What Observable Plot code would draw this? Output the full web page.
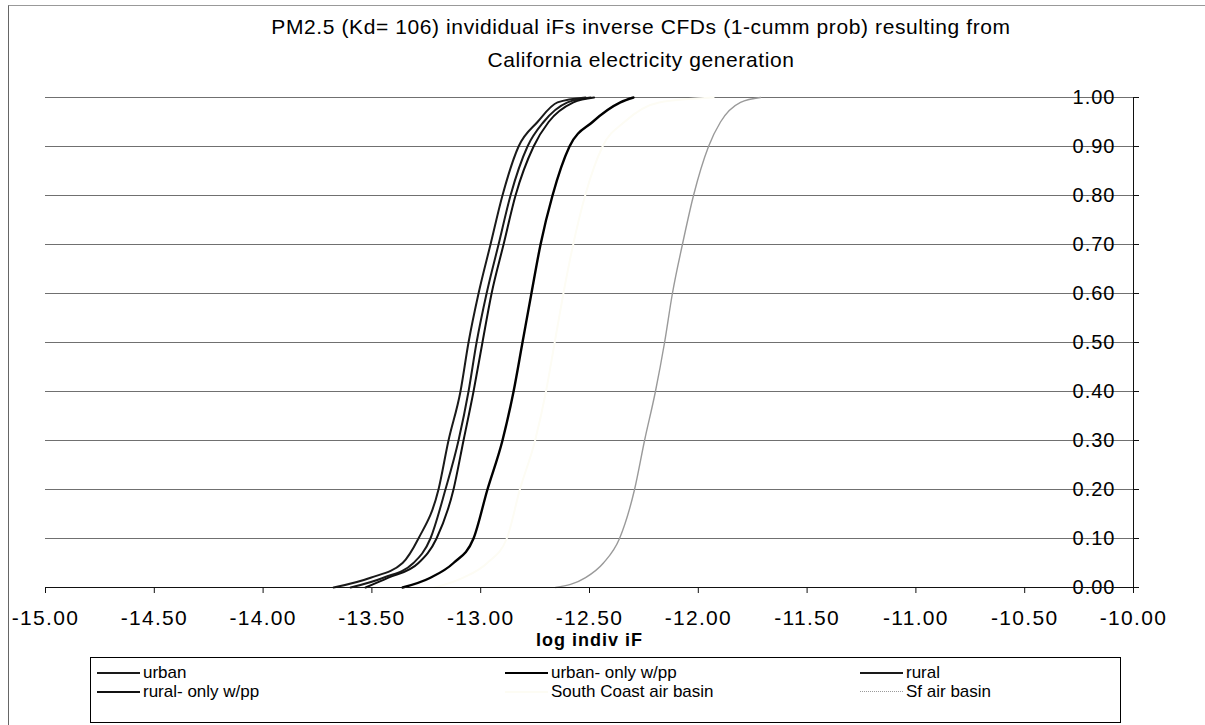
<!DOCTYPE html>
<html>
<head>
<meta charset="utf-8">
<script src="https://cdn.jsdelivr.net/npm/d3@7"></script>
<script src="https://cdn.jsdelivr.net/npm/@observablehq/plot@0.6"></script>
<style>
  html, body { margin: 0; padding: 0; background: #fff; }
  body { font-family: "Liberation Sans", Arial, sans-serif; color: #000; }
  #wrap { position: relative; width: 1205px; height: 725px; overflow: hidden; background: #fff; }
  #frame { position: absolute; left: 8px; top: 5px; width: 1300px; height: 800px; pointer-events: none;
           border-left: 1px solid #666; border-top: 1px solid #999; box-sizing: border-box; }
  #title { position: absolute; left: 141px; width: 1000px; top: 10px; text-align: center;
           font-size: 21px; line-height: 33px; letter-spacing: 0.6px; }
  #chart { position: absolute; left: 0; top: 80px; }
  #legend { position: absolute; left: 90px; top: 657px; width: 1031px; height: 66px;
            border: 1px solid #000; box-sizing: border-box; background: #fff; }
  .item { position: absolute; height: 19px; font-size: 17px; line-height: 19px; white-space: nowrap; }
  .swatch { position: absolute; left: 0; top: 9px; width: 43px; }
  .lbl { position: absolute; left: 46px; top: 0; }
</style>
</head>
<body>
<div id="wrap">
  <div id="title">PM2.5 (Kd= 106) invididual iFs inverse CFDs (1-cumm prob) resulting from<br>California electricity generation</div>
  <div id="chart"></div>
  <div id="legend"></div>
  <div id="frame"></div>
</div>
<script>
// probability levels (y values) at which each curve was read
const probs = [0, 0.02, 0.05, 0.1, 0.2, 0.3, 0.4, 0.5, 0.6, 0.7, 0.8, 0.9, 0.95, 0.99, 1.0];

// log indiv iF (x values) for each series at the probability levels above
const urban         = [-13.676, -13.506, -13.359, -13.286, -13.194, -13.148, -13.093, -13.056, -13.010, -12.955, -12.900, -12.826, -12.739, -12.647, -12.518];
const rural         = [-13.598, -13.447, -13.309, -13.231, -13.162, -13.102, -13.056, -13.019, -12.973, -12.918, -12.863, -12.785, -12.711, -12.601, -12.495];
const ruralOnlyWpp  = [-13.529, -13.424, -13.286, -13.203, -13.125, -13.079, -13.033, -12.992, -12.950, -12.895, -12.840, -12.757, -12.688, -12.574, -12.479];
const urbanOnlyWpp  = [-13.359, -13.231, -13.125, -13.033, -12.969, -12.900, -12.849, -12.808, -12.767, -12.725, -12.670, -12.592, -12.486, -12.358, -12.298];
const southCoast    = [-13.210, -13.080, -12.970, -12.880, -12.820, -12.750, -12.700, -12.660, -12.620, -12.575, -12.520, -12.440, -12.340, -12.180, -11.930];
const sfAirBasin    = [-12.656, -12.518, -12.436, -12.362, -12.293, -12.247, -12.197, -12.155, -12.119, -12.073, -12.022, -11.953, -11.898, -11.806, -11.714];

const seriesNames  = ["urban", "urban- only w/pp", "rural", "rural- only w/pp", "South Coast air basin", "Sf air basin"];
const seriesValues = [urban, urbanOnlyWpp, rural, ruralOnlyWpp, southCoast, sfAirBasin];
const seriesColors = ["#1a1a1a", "#000000", "#1a1a1a", "#111111", "#fdfcf4", "#9a9a9a"];
const seriesWidths = [2, 2.4, 2, 2, 2, 1.4];

const xTicks = [-15, -14.5, -14, -13.5, -13, -12.5, -12, -11.5, -11, -10.5, -10];
const yTicks = [0, 0.1, 0.2, 0.3, 0.4, 0.5, 0.6, 0.7, 0.8, 0.9, 1.0];
const xLabel = "log indiv iF";

const rows = [];
seriesNames.forEach((name, i) => {
  seriesValues[i].forEach((v, j) => rows.push({series: name, x: v, p: probs[j]}));
});

const lineMarks = seriesNames.map((name, i) =>
  Plot.line(rows.filter(r => r.series === name), {
    x: "x", y: "p", stroke: seriesColors[i], strokeWidth: seriesWidths[i], curve: "monotone-x"
  })
);

const plot = Plot.plot({
  width: 1205,
  height: 570,
  marginLeft: 45,
  marginRight: 72,
  marginTop: 17,
  marginBottom: 63,
  style: {fontFamily: "'Liberation Sans', Arial, sans-serif", color: "#000", background: "transparent", overflow: "visible"},
  x: {domain: [-15, -10], label: null},
  y: {domain: [0, 1], label: null},
  marks: [
    Plot.ruleY(yTicks.filter(d => d > 0), {stroke: "#707070", strokeWidth: 1}),
    Plot.text(yTicks, {x: -10, y: d => d, text: d => d.toFixed(2), textAnchor: "end", dx: -18, fontSize: 20, fill: "#000", stroke: "none"}),
    ...lineMarks,
    Plot.ruleY([0], {stroke: "#111", strokeWidth: 1}),
    Plot.ruleX([-10], {stroke: "#111", strokeWidth: 1}),
    Plot.axisY(yTicks, {anchor: "right", tickSize: 5, tickFormat: () => "", label: null, stroke: "#111"}),
    Plot.axisX(xTicks, {anchor: "bottom", tickSize: 6, tickPadding: 17, fontSize: 21, tickFormat: d => d.toFixed(2), label: null, stroke: "#111", fill: "#000"}),
    Plot.text([xLabel], {frameAnchor: "bottom", dy: 58, fontWeight: "bold", fontSize: 18, fill: "#000"})
  ]
});
document.getElementById("chart").appendChild(plot);
plot.querySelectorAll('g[aria-label="x-axis tick label"] text').forEach(t => t.style.letterSpacing = "1.3px");
plot.querySelectorAll('g[aria-label="text"] text').forEach(t => t.style.letterSpacing = "1px");

// legend
const legend = document.getElementById("legend");
const colX = [6, 414, 769];
seriesNames.forEach((name, i) => {
  const col = i % 3, row = Math.floor(i / 3);
  const item = document.createElement("div");
  item.className = "item";
  item.style.left = colX[col] + "px";
  item.style.top = (5 + row * 19) + "px";
  const sw = document.createElement("div");
  sw.className = "swatch";
  sw.style.borderTop = Math.max(1, Math.round(seriesWidths[i])) + "px " + (i === 5 ? "dotted " : "solid ") + seriesColors[i];
  const lb = document.createElement("span");
  lb.className = "lbl";
  lb.textContent = name;
  item.appendChild(sw);
  item.appendChild(lb);
  legend.appendChild(item);
});
</script>
</body>
</html>
